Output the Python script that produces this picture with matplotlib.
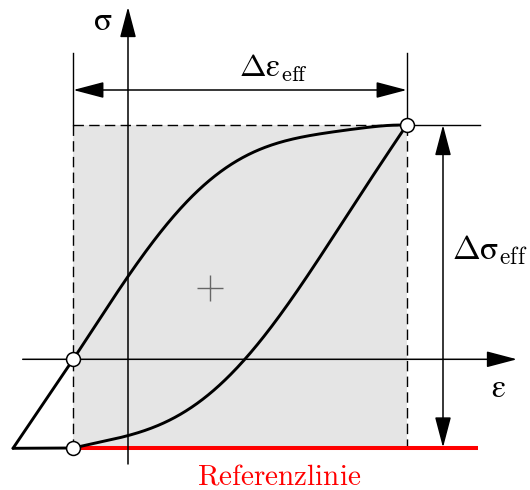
import matplotlib
matplotlib.use("Agg")
import matplotlib.pyplot as plt
import numpy as np
from matplotlib.patches import Rectangle

plt.rcParams["mathtext.fontset"] = "cm"

# Hysteresis loop, drawn in a canvas frame (x to the right, y downward)
tail_x = [13, 73.3]
tail_upper_y = [448.3, 359.3]
tail_lower_y = [448.3, 448.0]
upper_x = [73.3, 100, 128, 160, 193.3, 226.7, 260, 293, 326.7, 360, 393, 406.7]
upper_y = [359.3, 318, 276.7, 233, 195, 166.7, 150, 139, 132.7, 128, 125.7, 125]
lower_x = [73.3, 100, 127.7, 160, 193.3, 216.7, 245, 276.7, 310, 343, 376.7, 406.7]
lower_y = [448.0, 442.5, 435, 425, 406.7, 386.7, 359.3, 320, 271.7, 221.7, 170, 125]

# Characteristic points of the loop
key_x = [73.3, 73.3, 406.7]
key_y = [359.3, 447.5, 125]

# Effective range box
eps_min, eps_max = 73.3, 406.7
sig_max, sig_min = 125, 447.5
centre = (210, 287.7)

# Coordinate axes
origin = (128, 359.3)


def smooth_branch(xs, ys, deg=6, n=300):
    """Least-squares polynomial through the branch points, sampled for drawing."""
    xs = np.asarray(xs, float)
    ys = np.asarray(ys, float)
    coef = np.polyfit(xs, ys, deg)
    xx = np.linspace(xs[0], xs[-1], n)
    yy = np.polyval(coef, xx)
    # pin the ends to the measured end points
    yy[0], yy[-1] = ys[0], ys[-1]
    return xx, yy


fig = plt.figure(figsize=(5.3, 4.9), dpi=100)
ax = fig.add_axes([0, 0, 1, 1])
ax.set_xlim(0, 530)
ax.set_ylim(490, 0)
ax.axis("off")

# grey effective area
ax.add_patch(Rectangle((eps_min, sig_max), eps_max - eps_min, sig_min - sig_max,
                       facecolor="#e5e5e5", edgecolor="none", zorder=0))

dash = dict(color="black", lw=1.0, linestyle=(0, (7.5, 3.8)), zorder=1)
ax.plot([eps_min, eps_min], [sig_max, sig_min], **dash)
ax.plot([eps_max, eps_max], [sig_max, sig_min], **dash)
ax.plot([eps_min, eps_max], [sig_max, sig_max], **dash)

# extension lines
ax.plot([eps_min, eps_min], [53, sig_max], color="black", lw=1.0)
ax.plot([eps_max, eps_max], [53, sig_max], color="black", lw=1.0)
ax.plot([eps_max, 480], [sig_max, sig_max], color="black", lw=1.0)

# reference line
ax.plot([eps_min, 478], [sig_min, sig_min], color="red", lw=2.9, zorder=2,
        solid_capstyle="butt")

# coordinate axes
arrow_kw = dict(arrowstyle="-|>,head_length=1.9,head_width=0.5", color="black",
                lw=1.1, shrinkA=0, shrinkB=0, mutation_scale=10)
ax.annotate("", xy=(origin[0], 7), xytext=(origin[0], 464), arrowprops=arrow_kw, zorder=3)
ax.annotate("", xy=(517, origin[1]), xytext=(22.7, origin[1]), arrowprops=arrow_kw, zorder=3)

# dimension arrows
darrow_kw = dict(arrowstyle="<|-|>,head_length=1.9,head_width=0.5", color="black",
                 lw=1.1, shrinkA=0, shrinkB=0, mutation_scale=10)
ax.annotate("", xy=(eps_max, 90), xytext=(eps_min, 90), arrowprops=darrow_kw)
ax.annotate("", xy=(443, sig_max), xytext=(443, sig_min), arrowprops=darrow_kw)

# loop branches
line_kw = dict(color="black", lw=2.1, zorder=4, solid_capstyle="round",
               solid_joinstyle="round")
ux, uy = smooth_branch(upper_x, upper_y)
lx, ly = smooth_branch(lower_x, lower_y)
ax.plot(np.r_[tail_x[0], ux], np.r_[tail_upper_y[0], uy], **line_kw)
ax.plot(np.r_[tail_x[0], lx], np.r_[tail_lower_y[0], ly], **line_kw)

# centre marker
ax.plot(*centre, marker="+", markersize=19, mew=1.0, color="#666666", zorder=4)

# key points
ax.plot(key_x, key_y, "o", markersize=10, mfc="white", mec="black", mew=1.1, zorder=5)

# labels
ax.text(103, 20, r"$\mathrm{σ}$", fontsize=24, ha="center", va="center")
ax.text(498, 388, r"$\mathrm{ε}$", fontsize=23, ha="center", va="center")
ax.text(273, 68, r"$\Delta\mathrm{ε}_{\mathrm{eff}}$", fontsize=23, ha="center", va="center")
ax.text(490, 250, r"$\Delta\mathrm{σ}_{\mathrm{eff}}$", fontsize=24, ha="center", va="center")
ax.text(279, 476, r"$\mathrm{Referenzlinie}$", fontsize=21, color="red",
        ha="center", va="center")

fig.savefig("out.png", dpi=100)
